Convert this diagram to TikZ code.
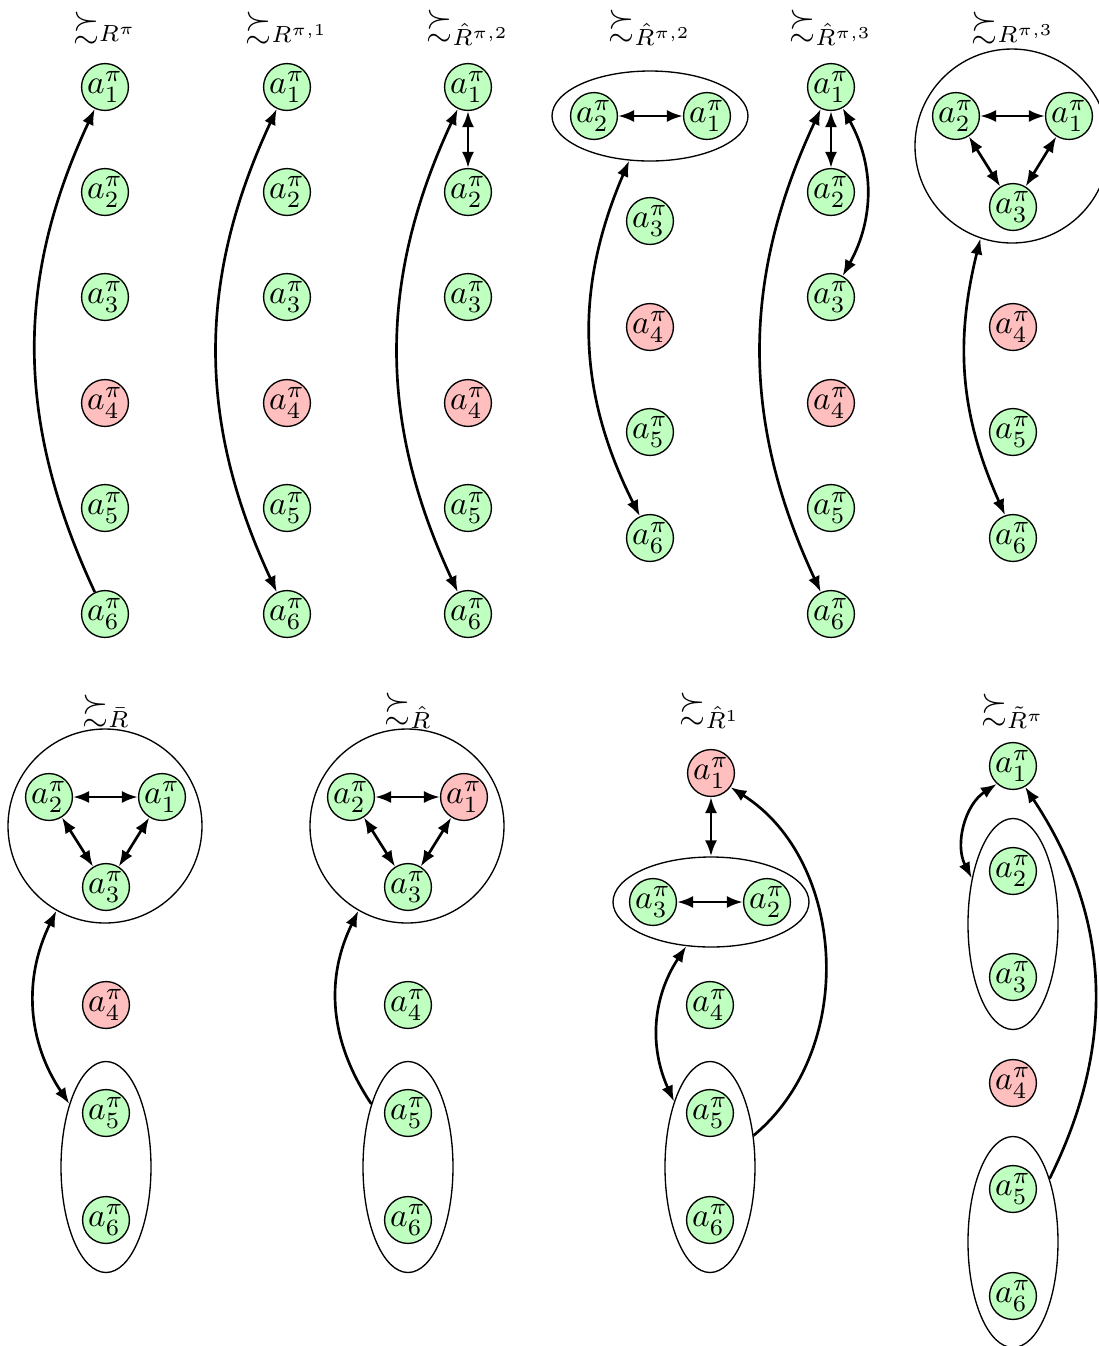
\documentclass[tikz,border=0pt]{standalone}
\usepackage{amsmath,amssymb}
\usetikzlibrary{arrows.meta,shapes.geometric}
\tikzset{
  gn/.style={circle,draw,fill=green!25,minimum size=14pt,inner sep=0pt},
  rn/.style={circle,draw,fill=red!25,minimum size=14pt,inner sep=0pt},
  hgrp/.style={ellipse,draw,inner sep=0pt,minimum width=58.8pt,minimum height=27pt},
  vgrp/.style={ellipse,draw,inner sep=0pt,minimum width=27pt,minimum height=63.3pt},
  cgrp/.style={circle,draw,inner sep=0pt,minimum size=58.2pt},
  ttl/.style={inner sep=1pt},
  ed/.style={thick},
  >={Latex[length=4.8pt,width=3.6pt]}
}
\begin{document}
\begin{tikzpicture}[x=0.3pt,y=-0.3pt]
\useasboundingbox (0,0) rectangle (1099,1346);
% ---------- panel 1
\node[ttl] (t1) at (105,28) {$\succsim_{R^\pi}$};
\node[gn] (p1a1) at (105,87) {$a_1^\pi$};
\node[gn] (p1a2) at (105,192) {$a_2^\pi$};
\node[gn] (p1a3) at (105,297) {$a_3^\pi$};
\node[rn] (p1a4) at (105,403) {$a_4^\pi$};
\node[gn] (p1a5) at (105,508) {$a_5^\pi$};
\node[gn] (p1a6) at (105,614) {$a_6^\pi$};
\draw[ed,->] (p1a6) to[bend left=25] (p1a1);
% ---------- panel 2
\node[ttl] (t2) at (287,28) {$\succsim_{R^{\pi,1}}$};
\node[gn] (p2a1) at (287,87) {$a_1^\pi$};
\node[gn] (p2a2) at (287,192) {$a_2^\pi$};
\node[gn] (p2a3) at (287,297) {$a_3^\pi$};
\node[rn] (p2a4) at (287,403) {$a_4^\pi$};
\node[gn] (p2a5) at (287,508) {$a_5^\pi$};
\node[gn] (p2a6) at (287,614) {$a_6^\pi$};
\draw[ed,<->] (p2a1) to[bend right=25] (p2a6);
% ---------- panel 3
\node[ttl] (t3) at (468,28) {$\succsim_{\hat{R}^{\pi,2}}$};
\node[gn] (p3a1) at (468,87) {$a_1^\pi$};
\node[gn] (p3a2) at (468,192) {$a_2^\pi$};
\node[gn] (p3a3) at (468,297) {$a_3^\pi$};
\node[rn] (p3a4) at (468,403) {$a_4^\pi$};
\node[gn] (p3a5) at (468,508) {$a_5^\pi$};
\node[gn] (p3a6) at (468,614) {$a_6^\pi$};
\draw[ed,<->] (p3a1) -- (p3a2);
\draw[ed,<->] (p3a1) to[bend right=25] (p3a6);
% ---------- panel 4
\node[ttl] (t4) at (650,28) {$\succsim_{\hat{R}^{\pi,2}}$};
\node[hgrp] (p4g) at (650,116) {};
\node[gn] (p4a2) at (594,116) {$a_2^\pi$};
\node[gn] (p4a1) at (707,116) {$a_1^\pi$};
\node[gn] (p4a3) at (650,221) {$a_3^\pi$};
\node[rn] (p4a4) at (650,327) {$a_4^\pi$};
\node[gn] (p4a5) at (650,432) {$a_5^\pi$};
\node[gn] (p4a6) at (650,538) {$a_6^\pi$};
\draw[ed,<->] (p4a2) -- (p4a1);
\draw[ed,<->] (p4g) to[bend right=25] (p4a6);
% ---------- panel 5
\node[ttl] (t5) at (831,28) {$\succsim_{\hat{R}^{\pi,3}}$};
\node[gn] (p5a1) at (831,87) {$a_1^\pi$};
\node[gn] (p5a2) at (831,192) {$a_2^\pi$};
\node[gn] (p5a3) at (831,297) {$a_3^\pi$};
\node[rn] (p5a4) at (831,403) {$a_4^\pi$};
\node[gn] (p5a5) at (831,508) {$a_5^\pi$};
\node[gn] (p5a6) at (831,614) {$a_6^\pi$};
\draw[ed,<->] (p5a1) -- (p5a2);
\draw[ed,<->] (p5a1) to[bend right=25] (p5a6);
\draw[ed,<->] (p5a1) to[bend left=29] (p5a3);
% ---------- panel 6
\node[ttl] (t6) at (1013,28) {$\succsim_{R^{\pi,3}}$};
\node[cgrp] (p6c) at (1012,146) {};
\node[gn] (p6a2) at (956,116) {$a_2^\pi$};
\node[gn] (p6a1) at (1069,116) {$a_1^\pi$};
\node[gn] (p6a3) at (1013,207) {$a_3^\pi$};
\node[rn] (p6a4) at (1013,327) {$a_4^\pi$};
\node[gn] (p6a5) at (1013,432) {$a_5^\pi$};
\node[gn] (p6a6) at (1013,538) {$a_6^\pi$};
\draw[ed,<->] (p6a2) -- (p6a1);
\draw[ed,<->] (p6a2) -- (p6a3);
\draw[ed,<->] (p6a1) -- (p6a3);
\draw[ed,<->] (p6c) to[bend right=19] (p6a6);
% ---------- panel 7
\node[ttl] (t7) at (106,711) {$\succsim_{\bar{R}}$};
\node[cgrp] (p7c) at (105,826) {};
\node[gn] (p7a2) at (49,797) {$a_2^\pi$};
\node[gn] (p7a1) at (162,797) {$a_1^\pi$};
\node[gn] (p7a3) at (106,887) {$a_3^\pi$};
\node[rn] (p7a4) at (106,1005) {$a_4^\pi$};
\node[vgrp] (p7e) at (106,1167) {};
\node[gn] (p7a5) at (106,1113) {$a_5^\pi$};
\node[gn] (p7a6) at (106,1220) {$a_6^\pi$};
\draw[ed,<->] (p7a2) -- (p7a1);
\draw[ed,<->] (p7a2) -- (p7a3);
\draw[ed,<->] (p7a1) -- (p7a3);
\draw[ed,<->] (p7c) to[bend right=30] (p7e);
% ---------- panel 8
\node[ttl] (t8) at (408,711) {$\succsim_{\hat{R}}$};
\node[cgrp] (p8c) at (407,826) {};
\node[gn] (p8a2) at (351,797) {$a_2^\pi$};
\node[rn] (p8a1) at (464,797) {$a_1^\pi$};
\node[gn] (p8a3) at (408,887) {$a_3^\pi$};
\node[gn] (p8a4) at (408,1005) {$a_4^\pi$};
\node[vgrp] (p8e) at (408,1167) {};
\node[gn] (p8a5) at (408,1113) {$a_5^\pi$};
\node[gn] (p8a6) at (408,1220) {$a_6^\pi$};
\draw[ed,<->] (p8a2) -- (p8a1);
\draw[ed,<->] (p8a2) -- (p8a3);
\draw[ed,<->] (p8a1) -- (p8a3);
\draw[ed,->] (p8e) to[bend left=30] (p8c);
% ---------- panel 9
\node[ttl] (t9) at (710,711) {$\succsim_{\hat{R}^1}$};
\node[rn] (p9a1) at (711,773) {$a_1^\pi$};
\node[hgrp] (p9g) at (711,902) {};
\node[gn] (p9a3) at (653,902) {$a_3^\pi$};
\node[gn] (p9a2) at (767,902) {$a_2^\pi$};
\node[gn] (p9a4) at (710,1005) {$a_4^\pi$};
\node[vgrp] (p9e) at (710,1167) {};
\node[gn] (p9a5) at (710,1113) {$a_5^\pi$};
\node[gn] (p9a6) at (710,1220) {$a_6^\pi$};
\draw[ed,<->] (p9a1) -- (p9g);
\draw[ed,<->] (p9a3) -- (p9a2);
\draw[ed,<->] (p9g) to[bend right=29] (p9e);
\draw[ed,->] (p9e) to[bend right=54] (p9a1);
% ---------- panel 10
\node[ttl] (t10) at (1013,711) {$\succsim_{\tilde{R}^\pi}$};
\node[gn] (p10a1) at (1013,766) {$a_1^\pi$};
\node[vgrp] (p10g) at (1013,924) {};
\node[gn] (p10a2) at (1013,871) {$a_2^\pi$};
\node[gn] (p10a3) at (1013,977) {$a_3^\pi$};
\node[rn] (p10a4) at (1013,1083) {$a_4^\pi$};
\node[vgrp] (p10e) at (1013,1242) {};
\node[gn] (p10a5) at (1013,1189) {$a_5^\pi$};
\node[gn] (p10a6) at (1013,1296) {$a_6^\pi$};
\draw[ed,<->] (p10a1) to[bend right=42] (p10g);
\draw[ed,->] (p10e) to[bend right=30] (p10a1);
\end{tikzpicture}
\end{document}
